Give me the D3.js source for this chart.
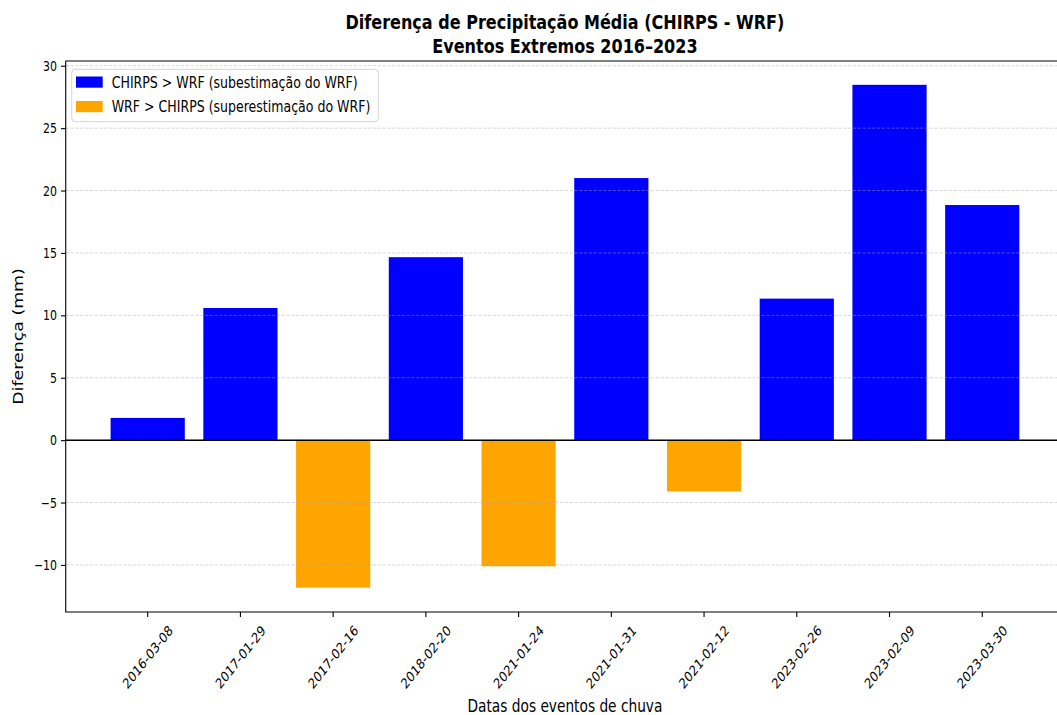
<!DOCTYPE html>
<html>
<head>
<meta charset="utf-8">
<script src="https://cdn.jsdelivr.net/npm/d3@7"></script>
<style>
  body { margin: 0; background: #fff; }
  svg text { font-family: "DejaVu Sans", sans-serif; fill: #000; }
</style>
</head>
<body>
<svg id="chart" width="1057" height="715"></svg>
<script>
// Event dates (x categories) and mean precipitation difference CHIRPS - WRF (mm)
const eventDates = ["2016-03-08", "2017-01-29", "2017-02-16", "2018-02-20", "2021-01-24",
                    "2021-01-31", "2021-02-12", "2023-02-26", "2023-02-09", "2023-03-30"];
const differences = [1.78, 10.59, -11.82, 14.66, -10.11, 21.0, -4.11, 11.34, 28.47, 18.84];
const yTicks = [-10, -5, 0, 5, 10, 15, 20, 25, 30];
const yDomain = [-13.77, 30.38];
const legendLabels = ["CHIRPS > WRF (subestimação do WRF)", "WRF > CHIRPS (superestimação do WRF)"];
const barColors = ["#0000ff", "#ffa500"];   // positive, negative
const titleLines = ["Diferença de Precipitação Média (CHIRPS - WRF)", "Eventos Extremos 2016–2023"];
const xLabel = "Datas dos eventos de chuva";
const yLabel = "Diferença (mm)";

// The whole figure is laid out on a wider canvas and compressed horizontally.
const SX = 0.79;
const plot = { left: 83.2, right: 1347.1, top: 61, bottom: 612 };

const svg = d3.select("#chart");
const g = svg.append("g").attr("transform", `scale(${SX},1)`);

const x = d3.scaleBand()
  .domain(eventDates)
  .range([plot.left, plot.right])
  .paddingInner(0.2)
  .paddingOuter(0.484);

const y = d3.scaleLinear().domain(yDomain).range([plot.bottom, plot.top]);

// Bars
g.append("g").selectAll("rect")
  .data(eventDates.map((d, i) => ({ date: d, value: differences[i] })))
  .join("rect")
  .attr("x", d => x(d.date))
  .attr("width", x.bandwidth())
  .attr("y", d => y(Math.max(0, d.value)))
  .attr("height", d => Math.abs(y(d.value) - y(0)))
  .attr("fill", d => d.value >= 0 ? barColors[0] : barColors[1]);

// Horizontal dashed grid (drawn over the bars)
g.append("g").selectAll("line")
  .data(yTicks)
  .join("line")
  .attr("x1", plot.left).attr("x2", plot.right)
  .attr("y1", d => y(d)).attr("y2", d => y(d))
  .attr("stroke", "#a8a8a8")
  .attr("stroke-opacity", 0.45)
  .attr("stroke-width", 1)
  .attr("stroke-dasharray", "3.2,1.6")
  .attr("vector-effect", "non-scaling-stroke");

// Zero reference line
g.append("line")
  .attr("x1", plot.left).attr("x2", plot.right)
  .attr("y1", y(0)).attr("y2", y(0))
  .attr("stroke", "#000")
  .attr("stroke-width", 1.5)
  .attr("vector-effect", "non-scaling-stroke");

// Frame
g.append("rect")
  .attr("x", plot.left).attr("y", plot.top)
  .attr("width", plot.right - plot.left).attr("height", plot.bottom - plot.top)
  .attr("fill", "none").attr("stroke", "#000").attr("stroke-width", 1.1)
  .attr("vector-effect", "non-scaling-stroke");

// Y axis
const yAxis = g.append("g")
  .attr("transform", `translate(${plot.left},0)`)
  .call(d3.axisLeft(y).tickValues(yTicks).tickSize(6).tickPadding(5)
    .tickFormat(d => d < 0 ? "\u2212" + Math.abs(d) : String(d)));
yAxis.select(".domain").remove();
yAxis.selectAll(".tick line").attr("stroke", "#000").attr("stroke-width", 1.1)
  .attr("vector-effect", "non-scaling-stroke");
yAxis.selectAll(".tick text").attr("font-size", 13.9).attr("font-family", "DejaVu Sans");

// X axis with rotated date labels
const xAxis = g.append("g")
  .attr("transform", `translate(0,${plot.bottom})`)
  .call(d3.axisBottom(x).tickSize(5).tickFormat(""));
xAxis.select(".domain").remove();
xAxis.selectAll(".tick line").attr("stroke", "#000").attr("stroke-width", 1.1)
  .attr("vector-effect", "non-scaling-stroke");

g.append("g").selectAll("text")
  .data(eventDates)
  .join("text")
  .attr("transform", d => `translate(${x(d) + x.bandwidth() / 2},${plot.bottom + 45}) rotate(-45)`)
  .attr("text-anchor", "middle")
  .attr("dominant-baseline", "central")
  .attr("font-size", 14.2)
  .text(d => d);

// Axis labels
g.append("text")
  .attr("x", (plot.left + plot.right) / 2).attr("y", 712)
  .attr("text-anchor", "middle").attr("font-size", 17.4)
  .text(xLabel);

g.append("text")
  .attr("transform", `translate(29,${(plot.top + plot.bottom) / 2}) rotate(-90)`)
  .attr("text-anchor", "middle").attr("font-size", 17.4)
  .text(yLabel);

// Title
g.append("g").selectAll("text")
  .data(titleLines)
  .join("text")
  .attr("x", (plot.left + plot.right) / 2)
  .attr("y", (d, i) => 29 + i * 24)
  .attr("text-anchor", "middle")
  .attr("font-size", 20.3)
  .attr("font-weight", "bold")
  .text(d => d);

// Legend
const legend = g.append("g");
legend.append("rect")
  .attr("x", 90.8).attr("y", 69.3)
  .attr("width", 478.9 - 90.8).attr("height", 121.7 - 69.3)
  .attr("rx", 4).attr("ry", 4)
  .attr("fill", "#fff").attr("fill-opacity", 0.8)
  .attr("stroke", "#d4d4d4").attr("stroke-width", 1)
  .attr("vector-effect", "non-scaling-stroke");
legendLabels.forEach((lab, i) => {
  legend.append("rect")
    .attr("x", 96.2).attr("y", 76.5 + i * 24.5)
    .attr("width", 33.8).attr("height", 11.2)
    .attr("fill", barColors[i]);
  legend.append("text")
    .attr("x", 141.4).attr("y", 88 + i * 24.5)
    .attr("font-size", 15.9)
    .text(lab);
});
</script>
</body>
</html>
